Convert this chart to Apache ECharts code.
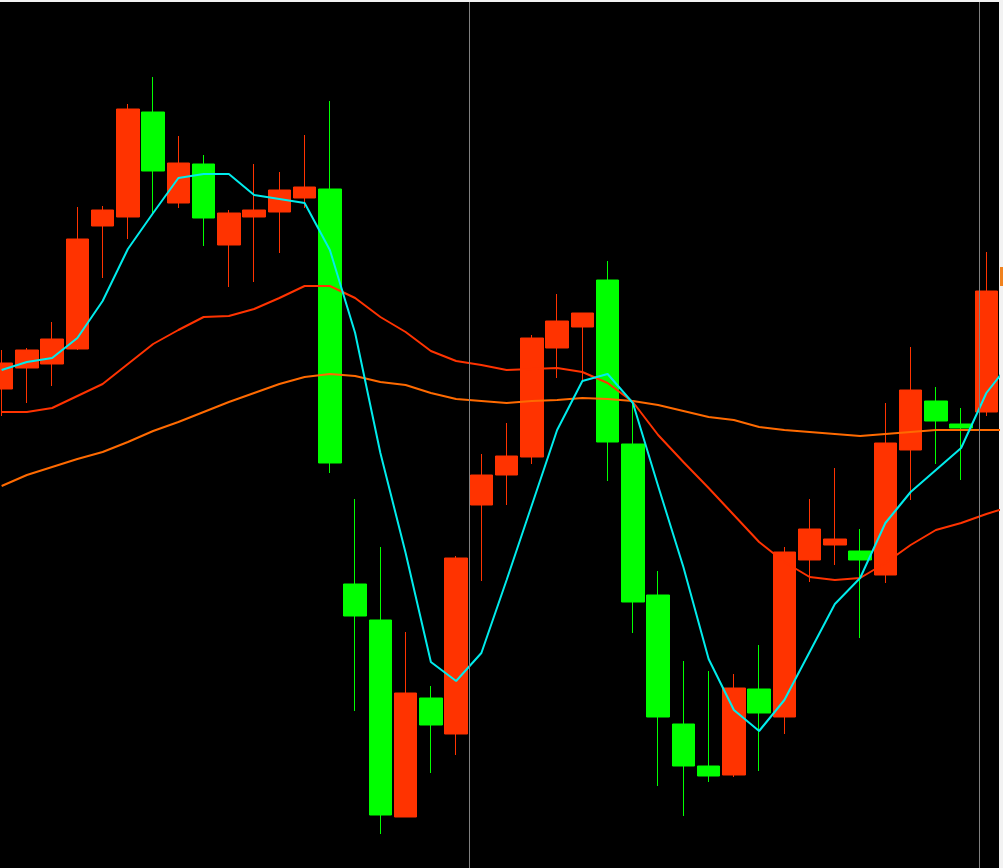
<!DOCTYPE html>
<html>
<head>
<meta charset="utf-8">
<style>
  html, body { margin: 0; padding: 0; background: #f2f2f2; overflow: hidden; }
  #chart { position: absolute; left: -11px; top: 0; width: 1014px; height: 868px; }
</style>
<script src="https://cdn.jsdelivr.net/npm/echarts@6/dist/echarts.min.js"></script>
</head>
<body>
<div id="chart"></div>
<script>
// Candle data: [open, close, low, high]
const categories = Array.from({length: 40}, (_, i) => 'K' + (i + 1));
const candles = [
  [34.79, 35.05, 34.52, 35.18],
  [35.00, 35.18, 34.65, 35.20],
  [35.04, 35.29, 34.82, 35.46],
  [35.19, 36.29, 35.18, 36.61],
  [36.42, 36.58, 35.90, 36.62],
  [36.51, 37.59, 36.29, 37.64],
  [37.56, 36.97, 36.55, 37.91],
  [36.65, 37.05, 36.60, 37.32],
  [37.04, 36.50, 36.22, 37.13],
  [36.23, 36.55, 35.81, 36.58],
  [36.51, 36.58, 35.86, 37.04],
  [36.56, 36.78, 36.15, 36.96],
  [36.70, 36.81, 36.60, 37.33],
  [36.79, 34.05, 33.95, 37.67],
  [32.84, 32.52, 31.57, 33.69],
  [32.48, 30.53, 30.34, 33.21],
  [30.51, 31.75, 30.51, 32.36],
  [31.70, 31.43, 30.95, 31.82],
  [31.34, 33.10, 31.13, 33.12],
  [33.63, 33.93, 32.87, 34.14],
  [33.93, 34.12, 33.63, 34.45],
  [34.11, 35.30, 34.04, 35.33],
  [35.20, 35.47, 34.90, 35.74],
  [35.41, 35.55, 34.88, 35.55],
  [35.88, 34.26, 33.87, 36.07],
  [34.24, 32.66, 32.35, 34.65],
  [32.73, 31.51, 30.82, 32.97],
  [31.44, 31.02, 30.52, 32.07],
  [31.02, 30.92, 30.86, 31.97],
  [30.93, 31.80, 30.91, 31.94],
  [31.79, 31.55, 30.97, 32.23],
  [31.51, 33.16, 31.34, 33.21],
  [33.08, 33.39, 32.86, 33.69],
  [33.23, 33.29, 33.03, 34.00],
  [33.17, 33.08, 32.30, 33.39],
  [32.93, 34.25, 32.85, 34.65],
  [34.18, 34.78, 33.68, 35.21],
  [34.67, 34.47, 34.04, 34.81],
  [34.44, 34.40, 33.88, 34.60],
  [34.56, 35.77, 34.52, 36.16]
];
// Moving-average lines; the last value belongs to the next (off-screen) bar,
// whose segment is cut off at the right edge of the plot.
const ma5 = [34.98, 35.06, 35.10, 35.30, 35.67, 36.19, 36.55, 36.90, 36.94, 36.94,
  36.73, 36.69, 36.65, 36.18, 35.35, 34.15, 33.15, 32.06, 31.87, 32.15,
  32.88, 33.63, 34.38, 34.87, 34.94, 34.65, 33.82, 33.01, 32.09, 31.58,
  31.37, 31.68, 32.16, 32.64, 32.90, 33.45, 33.76, 33.98, 34.20, 34.75, 35.07];
const maMid = [34.56, 34.56, 34.60, 34.72, 34.84, 35.04, 35.24, 35.38, 35.51, 35.52,
  35.59, 35.70, 35.82, 35.82, 35.70, 35.51, 35.36, 35.17, 35.07, 35.03,
  34.98, 34.99, 35.00, 34.96, 34.85, 34.66, 34.33, 34.06, 33.80, 33.53,
  33.26, 33.06, 32.91, 32.88, 32.90, 33.05, 33.23, 33.38, 33.45, 33.54, 33.62];
const maLong = [33.82, 33.93, 34.01, 34.09, 34.16, 34.26, 34.37, 34.46, 34.56, 34.66,
  34.75, 34.84, 34.91, 34.94, 34.92, 34.86, 34.83, 34.75, 34.69, 34.67,
  34.65, 34.67, 34.68, 34.70, 34.69, 34.67, 34.63, 34.57, 34.51, 34.48,
  34.41, 34.38, 34.36, 34.34, 34.32, 34.34, 34.36, 34.38, 34.38, 34.38, 34.38];
// separator positions (in bar-index units, on a hidden value axis)
const separators = [18.5, 38.7];
const yMin = 30.00, yMax = 38.66;

const toPairs = arr => arr.map((v, i) => [i, v]);

const chart = echarts.init(document.getElementById('chart'), null, {renderer: 'canvas'});
chart.setOption({
  animation: false,
  backgroundColor: '#f2f2f2',
  grid: {
    left: 0, right: 4, top: 2, bottom: 0,
    show: true, backgroundColor: '#000000', borderWidth: 0,
    containLabel: false
  },
  xAxis: [
    {
      type: 'category', data: categories, boundaryGap: true,
      axisLine: {show: false}, axisTick: {show: false}, axisLabel: {show: false},
      splitLine: {show: false}
    },
    {
      type: 'value', min: -0.5, max: categories.length - 0.5,
      show: false
    }
  ],
  yAxis: {
    type: 'value', min: yMin, max: yMax, scale: true,
    axisLine: {show: false}, axisTick: {show: false}, axisLabel: {show: false},
    splitLine: {show: false}
  },
  series: [
    {
      type: 'candlestick',
      data: candles,
      barWidth: 23,
      itemStyle: {
        color: '#ff3300', color0: '#00ff00',
        borderColor: '#ff3300', borderColor0: '#00ff00',
        borderWidth: 1
      },
      z: 2
    },
    {
      type: 'line', xAxisIndex: 1, data: toPairs(maLong), symbol: 'none', smooth: false, clip: true,
      lineStyle: {color: '#ff6a00', width: 2}, z: 3
    },
    {
      type: 'line', xAxisIndex: 1, data: toPairs(maMid), symbol: 'none', smooth: false, clip: true,
      lineStyle: {color: '#ff3300', width: 2}, z: 3
    },
    {
      type: 'line', xAxisIndex: 1, data: toPairs(ma5), symbol: 'none', smooth: false, clip: true,
      lineStyle: {color: '#00ecec', width: 2}, z: 4
    },
    {
      type: 'line', xAxisIndex: 1, data: [], symbol: 'none',
      markLine: {
        silent: true, symbol: ['none', 'none'], label: {show: false},
        lineStyle: {color: '#808080', width: 1, type: 'solid'},
        data: separators.map(v => ({xAxis: v}))
      },
      z: 5
    }
  ],
  graphic: [
    {
      type: 'rect', right: 0, top: 267,
      shape: {width: 3, height: 19},
      style: {fill: '#f0821e'}, z: 10
    }
  ]
});
</script>
</body>
</html>
